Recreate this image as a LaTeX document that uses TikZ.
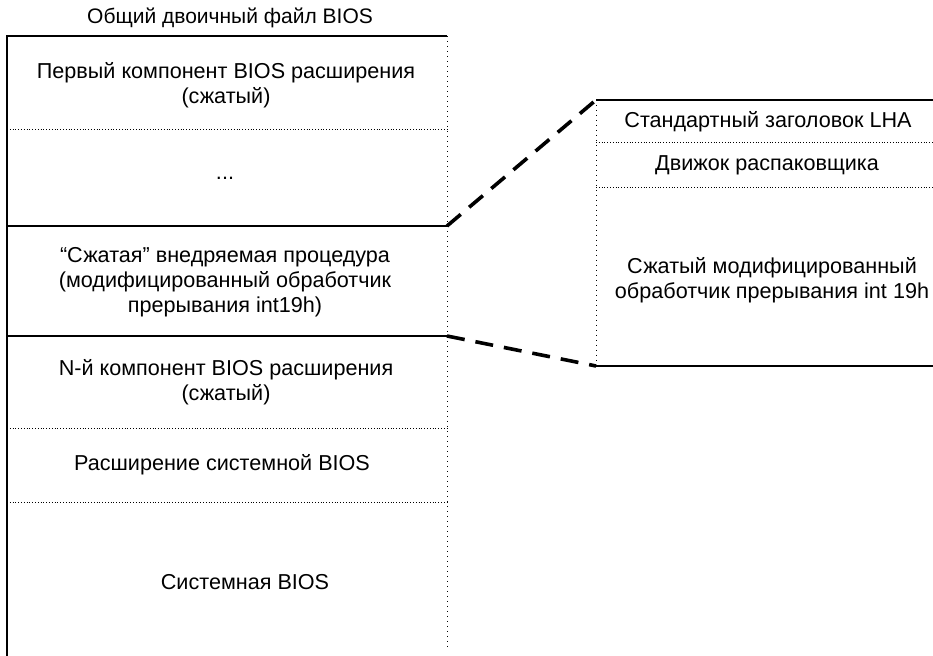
\documentclass[tikz,border=0pt]{standalone}
\usepackage{fontspec}
\setmainfont{Liberation Sans}
\usetikzlibrary{positioning}
\tikzset{
  lbl/.style={align=center,inner sep=0pt,font=\fontsize{10.8}{12.5}\selectfont},
  sepline/.style={densely dotted,line width=0.4pt},
  edgeline/.style={line width=0.6pt},
  sideline/.style={dotted,line width=0.5pt},
  zoomline/.style={line width=1.8pt,dash pattern=on 9pt off 5.5pt},
}

\begin{document}
\begin{tikzpicture}[x=0.5pt,y=-0.5pt]
  \useasboundingbox (0,0) rectangle (933,656);
  % corners of the binary file
  \coordinate (fileTL) at (7,36);
  \coordinate (fileTR) at (447,36);
  \coordinate (fileBL) at (7,656);
  \coordinate (fileBR) at (447,650);
  \coordinate (procTop) at (447,226);
  \coordinate (procBot) at (447,336);
  % corners of the LHA module
  \coordinate (lhaTL) at (596,100);
  \coordinate (lhaBL) at (596,366);
  \node[lbl,font=\fontsize{10.5}{12}\selectfont] (title) at (230,18) {Общий двоичный файл BIOS};
  % file outline
  \draw[edgeline] (fileBL) -- (fileTL) -- (fileTR);
  \draw[sideline] (fileTR) -- (fileBR);
  \draw[sepline] (7,129) -- (447,129);
  \draw[edgeline] (7,226) -- (procTop);
  \draw[edgeline] (7,336) -- (procBot);
  \draw[sepline] (7,428) -- (447,428);
  \draw[sepline] (7,502) -- (447,502);
  % file parts
  \node[lbl] (first) at (226,85.5) {Первый компонент BIOS расширения\\(сжатый)};
  \node[lbl] (dots) at (225,178) {...};
  \node[lbl] (proc) at (225,282.5) {“Сжатая” внедряемая процедура\\(модифицированный обработчик\\прерывания int19h)};
  \node[lbl] (nth) at (226,382.5) {N-й компонент BIOS расширения\\(сжатый)};
  \node[lbl] (ext) at (222,465) {Расширение системной BIOS};
  \node[lbl] (sysbios) at (245,582) {Системная BIOS};
  % LHA module outline
  \draw[edgeline] (933,100) -- (lhaTL);
  \draw[sideline] (lhaTL) -- (lhaBL);
  \draw[edgeline] (lhaBL) -- (933,366);
  \draw[sepline] (596,142) -- (933,142);
  \draw[sepline] (596,187) -- (933,187);
  \node[lbl] (header) at (768,122) {Стандартный заголовок LHA};
  \node[lbl] (engine) at (767,165) {Движок распаковщика};
  \node[lbl] (packed) at (772,280) {Сжатый модифицированный\\обработчик прерывания int 19h};
  % zoom lines
  \draw[zoomline] (procTop) -- (lhaTL);
  \draw[zoomline] (procBot) -- (lhaBL);
\end{tikzpicture}
\end{document}
